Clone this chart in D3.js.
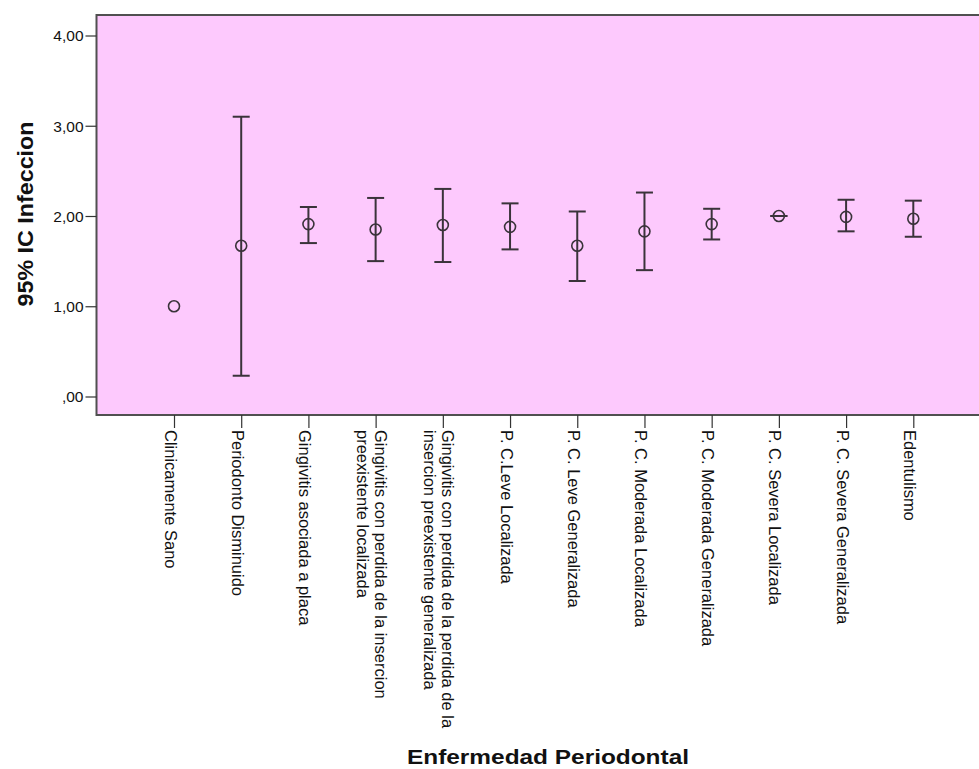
<!DOCTYPE html>
<html>
<head>
<meta charset="utf-8">
<script src="https://cdn.jsdelivr.net/npm/d3@7"></script>
<style>
  html, body { margin: 0; padding: 0; background: #ffffff; }
  svg { display: block; }
  text { font-family: "Liberation Sans", Arial, sans-serif; fill: #111; }
</style>
</head>
<body>
<svg id="chart" width="979" height="769"></svg>
<script>
// Periodontal diagnosis groups (line breaks mark wrapped axis labels)
const categories = [
  "Clinicamente Sano",
  "Periodonto Disminuido",
  "Gingivitis asociada a placa",
  "Gingivitis con perdida de la insercion\npreexistente localizada",
  "Gingivitis con perdida de la perdida de la\ninsercion preexistente generalizada",
  "P. C.Leve Localizada",
  "P. C. Leve Generalizada",
  "P. C. Moderada Localizada",
  "P. C. Moderada Generalizada",
  "P. C. Severa Localizada",
  "P. C. Severa Generalizada",
  "Edentulismo"
];

// Mean infection score and 95% confidence interval bounds per group
const means = [1.00, 1.67, 1.91, 1.85, 1.90, 1.88, 1.67, 1.83, 1.91, 2.00, 1.99, 1.97];
const lower = [null, 0.23, 1.70, 1.50, 1.49, 1.63, 1.28, 1.40, 1.74, 2.00, 1.83, 1.77];
const upper = [null, 3.10, 2.10, 2.20, 2.30, 2.14, 2.05, 2.26, 2.08, 2.00, 2.18, 2.17];

const yTicks = [0, 1, 2, 3, 4];
const yTickLabels = [",00", "1,00", "2,00", "3,00", "4,00"];

const yTitle = "95% IC Infeccion";
const xTitle = "Enfermedad Periodontal";

const svg = d3.select("#chart");

// Plot frame
const frame = { left: 96.5, top: 15, right: 1000, bottom: 415 };

const x = d3.scalePoint().domain(categories).range([174, 913.3]);
const y = d3.scaleLinear().domain([0, 4]).range([396.5, 35.5]);

svg.append("rect")
  .attr("x", frame.left).attr("y", frame.top)
  .attr("width", frame.right - frame.left)
  .attr("height", frame.bottom - frame.top)
  .attr("fill", "#fdc9fd")
  .attr("stroke", "#505050")
  .attr("stroke-width", 2);

// Y axis
const yAxis = d3.axisLeft(y)
  .tickValues(yTicks)
  .tickFormat((d, i) => yTickLabels[i])
  .tickSize(11)
  .tickPadding(2)
  .tickSizeOuter(0);

const gy = svg.append("g")
  .attr("transform", `translate(${frame.left},0)`)
  .call(yAxis);
gy.select(".domain").remove();
gy.selectAll(".tick line").attr("stroke", "#333").attr("stroke-width", 1.2);
gy.selectAll(".tick text")
  .attr("font-family", "Liberation Sans, Arial, sans-serif")
  .attr("font-size", 15.5)
  .attr("fill", "#222")
  .attr("dy", "0.35em");

// X axis
const xAxis = d3.axisBottom(x)
  .tickSize(13)
  .tickFormat("")
  .tickSizeOuter(0);

const gx = svg.append("g")
  .attr("transform", `translate(0,${frame.bottom})`)
  .call(xAxis);
gx.select(".domain").remove();
gx.selectAll(".tick line").attr("stroke", "#333").attr("stroke-width", 1.2);

// Rotated, possibly multi-line category labels
const lineGap = 18;
gx.selectAll(".tick").each(function (d) {
  const lines = d.split("\n");
  const n = lines.length;
  const t = d3.select(this).append("text")
    .attr("transform", "translate(0,15) rotate(90)")
    .attr("font-family", "Liberation Sans, Arial, sans-serif")
    .attr("font-size", 16.5)
    .attr("fill", "#111")
    .attr("text-anchor", "start");
  lines.forEach((ln, i) => {
    t.append("tspan")
      .attr("x", 0)
      .attr("y", 9.9 - ((n - 1) / 2 - i) * lineGap)
      .text(ln);
  });
});

// Error bars
const capHalf = 8.5;
const ink = "#3a333a";
const idx = d3.range(categories.length);
const bars = svg.append("g");

idx.filter(i => lower[i] !== null).forEach(i => {
  const cx = x(categories[i]);
  bars.append("line")
    .attr("x1", cx).attr("x2", cx)
    .attr("y1", y(lower[i])).attr("y2", y(upper[i]))
    .attr("stroke", ink).attr("stroke-width", 2);
  [lower[i], upper[i]].forEach(v => {
    bars.append("line")
      .attr("x1", cx - capHalf).attr("x2", cx + capHalf)
      .attr("y1", y(v)).attr("y2", y(v))
      .attr("stroke", ink).attr("stroke-width", 2);
  });
});

// Mean markers
svg.append("g").selectAll("circle")
  .data(idx)
  .join("circle")
  .attr("cx", i => x(categories[i]))
  .attr("cy", i => y(means[i]))
  .attr("r", 5.5)
  .attr("fill", "none")
  .attr("stroke", ink)
  .attr("stroke-width", 1.6);

// Axis titles
svg.append("text")
  .attr("transform", `translate(32.5,214) rotate(-90)`)
  .attr("text-anchor", "middle")
  .attr("font-family", "Liberation Sans, Arial, sans-serif")
  .attr("font-weight", "bold")
  .attr("font-size", 22)
  .attr("textLength", 185)
  .attr("lengthAdjust", "spacingAndGlyphs")
  .attr("fill", "#111")
  .text(yTitle);

svg.append("text")
  .attr("x", 548).attr("y", 764)
  .attr("text-anchor", "middle")
  .attr("font-family", "Liberation Sans, Arial, sans-serif")
  .attr("font-weight", "bold")
  .attr("font-size", 20.5)
  .attr("textLength", 282)
  .attr("lengthAdjust", "spacingAndGlyphs")
  .attr("fill", "#111")
  .text(xTitle);
</script>
</body>
</html>
